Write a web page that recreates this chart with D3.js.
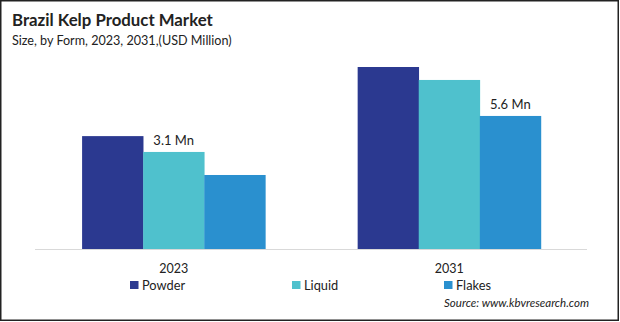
<!DOCTYPE html>
<html lang='en'>
	<head>
		<meta charset='utf-8'>
		<title>Brazil Kelp Product Market</title>
		<script type='text/javascript' src='https://cdn.jsdelivr.net/npm/d3@7'></script>
		<style>
			body { margin: 0; background: #fff; }
			text { font-family: Lato, 'Open Sans', sans-serif; fill: #222; }
		</style>
	</head>
	<body>
	</body>
	<script type='text/javascript'>
	// market size by form, USD million
	var years = ['2023', '2031'];
	var forms = ['Powder', 'Liquid', 'Flakes'];
	var powder = [4.2, 9.0];
	var liquid = [3.1, 8.1];
	var flakes = [1.5, 5.6];
	var colors = ['#2b3990', '#4fc1cd', '#2a90cf'];
	// value labels: [form index, year index, text]
	var value_labels = [[1, 0, '3.1 Mn'], [2, 1, '5.6 Mn']];

	var width = 620, height = 322;
	var series = [powder, liquid, flakes];
	var rows = [];
	for (var i = 0; i < years.length; i++) {
		for (var j = 0; j < forms.length; j++) {
			rows.push({year: years[i], form: forms[j], value: series[j][i], k: j});
		}
	}

	var svg = d3.select('body').append('svg').attr('width', width).attr('height', height);

	// frame
	svg.append('rect').attr('x', 0.75).attr('y', 0.75).attr('width', width - 2.5).attr('height', height - 2.5)
		.attr('fill', 'none').attr('stroke', '#222').attr('stroke-width', 1.5);

	svg.append('text').attr('x', 12).attr('y', 26).attr('font-size', '16.8px').attr('font-weight', 'bold')
		.attr('fill', '#333').text('Brazil Kelp Product Market');
	svg.append('text').attr('x', 12).attr('y', 45).attr('font-size', '12.6px')
		.text('Size, by Form, 2023, 2031,(USD Million)');

	var base_y = 249;
	var x = d3.scaleBand().domain(years).range([35.8, 587.2]).paddingInner(0.335).paddingOuter(0.168);
	var x_in = d3.scaleBand().domain(forms).range([0, x.bandwidth()]);
	var y = d3.scaleLinear().domain([-3.64, 9.0]).range([base_y, 67]);

	svg.append('g').selectAll('rect').data(rows).enter().append('rect')
		.attr('x', d => x(d.year) + x_in(d.form))
		.attr('y', d => y(d.value))
		.attr('width', x_in.bandwidth() + 0.3)
		.attr('height', d => base_y - y(d.value))
		.attr('fill', d => colors[d.k]);

	svg.append('line').attr('x1', 35).attr('x2', 587).attr('y1', base_y + 0.5).attr('y2', base_y + 0.5)
		.attr('stroke', '#d9d9d9').attr('stroke-width', 1);

	svg.selectAll('.vlabel').data(value_labels).enter().append('text')
		.attr('class', 'vlabel')
		.attr('x', d => x(years[d[1]]) + x_in(forms[d[0]]) + x_in.bandwidth() / 2)
		.attr('y', d => y(series[d[0]][d[1]]) - 7)
		.attr('text-anchor', 'middle').attr('font-size', '13px')
		.text(d => d[2]);

	svg.selectAll('.year').data(years).enter().append('text')
		.attr('class', 'year')
		.attr('x', d => x(d) + x.bandwidth() / 2)
		.attr('y', 273).attr('text-anchor', 'middle').attr('font-size', '12.5px')
		.text(d => d);

	// legend
	var leg_x = [130, 292, 444];
	var leg = svg.selectAll('.leg').data(forms).enter().append('g').attr('class', 'leg')
		.attr('transform', (d, i) => 'translate(' + leg_x[i] + ',281)');
	leg.append('rect').attr('width', 8.5).attr('height', 8).attr('fill', (d, i) => colors[i]);
	leg.append('text').attr('x', 12).attr('y', 8.5).attr('font-size', '12.8px').text(d => d);

	svg.append('text').attr('x', 589).attr('y', 307).attr('text-anchor', 'end')
		.attr('font-size', '11.5px').attr('font-style', 'italic')
		.text('Source: www.kbvresearch.com');
	</script>
</html>
